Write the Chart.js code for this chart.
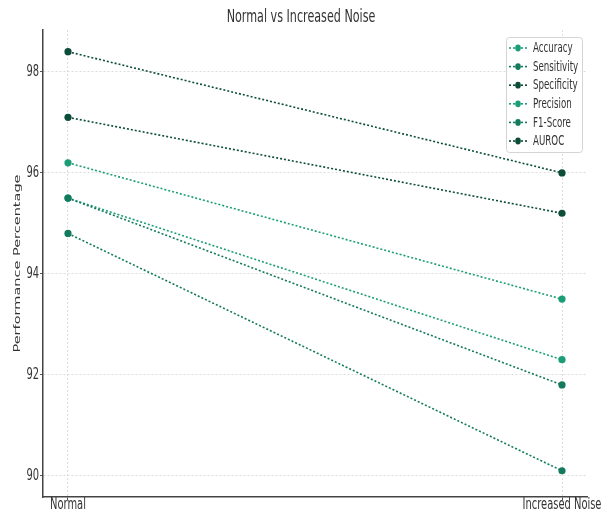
<!DOCTYPE html>
<html>
<head>
<meta charset="utf-8">
<script src="https://cdn.jsdelivr.net/npm/chart.js@4.4.0/dist/chart.umd.min.js"></script>
<style>
  html, body { margin: 0; padding: 0; background: #fff; }
  #wrap { width: 612px; height: 515px; }
</style>
</head>
<body>
<div id="wrap"><canvas id="myChart" width="612" height="515"></canvas></div>
<script>
// Data
var conditions = ['Normal', 'Increased Noise'];
var metrics = ['Accuracy', 'Sensitivity', 'Specificity', 'Precision', 'F1-Score', 'AUROC'];
var accuracy    = [96.2, 93.5];
var sensitivity = [95.5, 91.8];
var specificity = [97.1, 95.2];
var precision   = [95.5, 92.3];
var f1Score     = [94.8, 90.1];
var auroc       = [98.4, 96.0];
var yTicks = [90, 92, 94, 96, 98];

var colors = ['#1b9e77', '#137a5e', '#0b4d39', '#1b9e77', '#137a5e', '#0b4d39'];
var series = [accuracy, sensitivity, specificity, precision, f1Score, auroc];

// the reference text is squeezed sideways
var SX = 0.62;
var FONT = '"DejaVu Sans", Verdana, sans-serif';

function squeezedText(c, txt, x, y, size, align) {
    c.save();
    c.translate(x, y);
    c.scale(SX, 1);
    c.font = size + 'px ' + FONT;
    c.textAlign = align;
    c.textBaseline = 'middle';
    c.fillText(txt, 0, 0);
    c.restore();
}

var datasets = series.map(function(vals, i) {
    return {
        label: metrics[i],
        data: vals.map(function(v, j) { return { x: j, y: v }; }),
        borderColor: colors[i],
        backgroundColor: colors[i],
        borderWidth: 1.6,
        borderDash: [2, 2],
        pointRadius: 3.6,
        pointBorderWidth: 0,
        fill: false
    };
});

// title, tick labels, axis title and boxed legend
var extras = {
    id: 'extras',
    afterDraw: function(chart) {
        var c = chart.ctx;
        var xs = chart.scales.x, ys = chart.scales.y;
        c.save();
        c.fillStyle = '#333';
        squeezedText(c, 'Normal vs Increased Noise', 301, 17, 18, 'center');

        ys.ticks.forEach(function(t) {
            squeezedText(c, String(t.value), 39, ys.getPixelForValue(t.value), 16, 'right');
        });
        xs.ticks.forEach(function(t) {
            squeezedText(c, conditions[t.value], xs.getPixelForValue(t.value), 505, 16, 'center');
        });

        // rotated axis title
        c.save();
        c.translate(18, (chart.chartArea.top + chart.chartArea.bottom) / 2);
        c.rotate(-Math.PI / 2);
        c.scale(1, SX);
        c.font = '14.5px ' + FONT;
        c.textAlign = 'center';
        c.textBaseline = 'middle';
        c.fillText('Performance Percentage', 0, 0);
        c.restore();

        // legend box
        var bx = 506, by = 37, bw = 76, bh = 115;
        c.fillStyle = 'rgba(255,255,255,0.85)';
        c.strokeStyle = '#d4d4d4';
        c.lineWidth = 1;
        c.beginPath();
        c.roundRect(bx + 0.5, by + 0.5, bw, bh, 3);
        c.fill();
        c.stroke();
        chart.data.datasets.forEach(function(ds, i) {
            var y = by + 11 + i * 18.6;
            c.strokeStyle = ds.borderColor;
            c.lineWidth = 1.6;
            c.setLineDash([2, 2]);
            c.beginPath();
            c.moveTo(bx + 3, y);
            c.lineTo(bx + 22, y);
            c.stroke();
            c.setLineDash([]);
            c.fillStyle = ds.backgroundColor;
            c.beginPath();
            c.ellipse(bx + 12, y, 2.8, 3.4, 0, 0, Math.PI * 2);
            c.fill();
            c.fillStyle = '#333';
            squeezedText(c, ds.label, bx + 27, y + 0.5, 14, 'left');
        });
        c.restore();
    }
};

var ctx = document.getElementById('myChart').getContext('2d');
var myChart = new Chart(ctx, {
    type: 'line',
    data: { datasets: datasets },
    plugins: [extras],
    options: {
        responsive: false,
        animation: false,
        layout: { padding: { top: 30, right: 25, left: 0, bottom: 0 } },
        plugins: {
            legend: { display: false },
            title: { display: false },
            tooltip: { enabled: false }
        },
        scales: {
            x: {
                type: 'linear',
                min: -0.0506,
                max: 1.0506,
                afterBuildTicks: function(scale) {
                    scale.ticks = [{ value: 0 }, { value: 1 }];
                },
                afterFit: function(scale) { scale.height = 18; },
                ticks: { display: false },
                grid: {
                    color: '#dcdcdc',
                    lineWidth: 1,
                    tickLength: 3,
                    tickColor: '#555',
                    tickBorderDash: []
                },
                border: { display: true, color: '#444', width: 1.5, dash: [2, 2] }
            },
            y: {
                min: 89.58,
                max: 98.83,
                afterBuildTicks: function(scale) {
                    scale.ticks = yTicks.map(function(v) { return { value: v }; });
                },
                afterFit: function(scale) { scale.width = 43; },
                ticks: { display: false },
                grid: {
                    color: '#dcdcdc',
                    lineWidth: 1,
                    tickLength: 3,
                    tickColor: '#555',
                    tickBorderDash: []
                },
                border: { display: true, color: '#444', width: 1.5, dash: [2, 2] }
            }
        }
    }
});
</script>
</body>
</html>
